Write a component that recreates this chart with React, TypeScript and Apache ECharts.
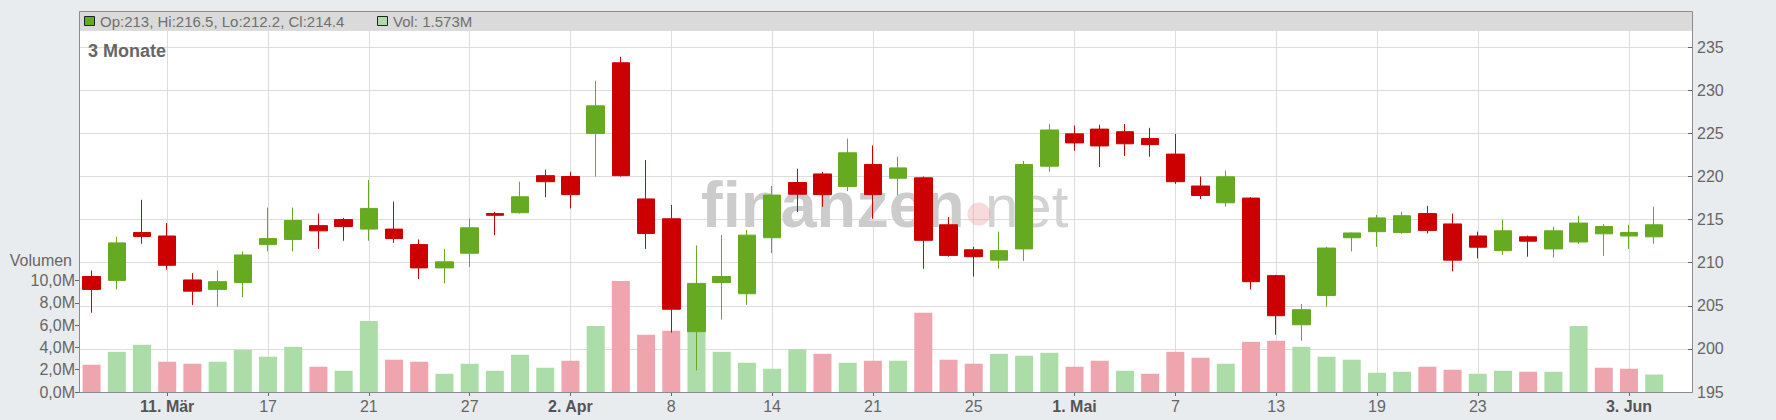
import React, { useEffect, useRef } from 'react';
import * as echarts from 'echarts';

// trading days (US calendar, 2025)
const dates = [
  '2025-03-06', '2025-03-07', '2025-03-10', '2025-03-11', '2025-03-12', '2025-03-13', '2025-03-14',
  '2025-03-17', '2025-03-18', '2025-03-19', '2025-03-20', '2025-03-21', '2025-03-24', '2025-03-25',
  '2025-03-26', '2025-03-27', '2025-03-28', '2025-03-31', '2025-04-01', '2025-04-02', '2025-04-03',
  '2025-04-04', '2025-04-07', '2025-04-08', '2025-04-09', '2025-04-10', '2025-04-11', '2025-04-14',
  '2025-04-15', '2025-04-16', '2025-04-17', '2025-04-21', '2025-04-22', '2025-04-23', '2025-04-24',
  '2025-04-25', '2025-04-28', '2025-04-29', '2025-04-30', '2025-05-01', '2025-05-02', '2025-05-05',
  '2025-05-06', '2025-05-07', '2025-05-08', '2025-05-09', '2025-05-12', '2025-05-13', '2025-05-14',
  '2025-05-15', '2025-05-16', '2025-05-19', '2025-05-20', '2025-05-21', '2025-05-22', '2025-05-23',
  '2025-05-27', '2025-05-28', '2025-05-29', '2025-05-30', '2025-06-02', '2025-06-03', '2025-06-04',
];
// empty slot after the last trading day
const paddingSlot = '2025-06-05';

const openP = [
  208.4, 207.95, 213.5, 213.1, 208.0, 206.9, 207.7,
  212.1, 212.7, 214.3, 215.0, 213.9, 213.9, 212.1,
  209.4, 211.1, 215.7, 215.8, 220.1, 220.0, 225.0,
  233.2, 217.4, 215.1, 202.0, 207.7, 206.4, 212.9,
  219.3, 220.3, 218.85, 221.4, 219.8, 219.85, 214.4,
  211.5, 210.3, 211.6, 221.2, 224.95, 225.5, 225.2,
  224.4, 222.6, 218.9, 216.95, 217.5, 208.5, 202.8,
  206.2, 212.9, 213.6, 213.5, 215.7, 214.5, 213.1,
  211.4, 213.0, 211.6, 212.4, 213.35, 213.1, 213,
];
const highP = [
  209.1, 213.0, 217.3, 214.6, 208.8, 209.1, 211.3,
  216.4, 216.4, 215.7, 215.2, 219.6, 217.1, 212.7,
  211.6, 215.1, 215.9, 219.4, 220.8, 220.55, 231.1,
  233.9, 221.9, 216.7, 212.0, 213.2, 213.8, 218.9,
  220.9, 220.55, 224.4, 223.6, 222.3, 220.0, 215.3,
  211.85, 213.6, 221.8, 226.1, 225.9, 226.0, 226.1,
  225.65, 224.95, 220.0, 220.7, 217.6, 208.6, 205.2,
  211.85, 213.5, 215.55, 215.9, 216.6, 215.7, 213.6,
  215.0, 213.15, 214.2, 215.45, 214.5, 214.4, 216.5,
];
const lowP = [
  204.2, 206.9, 212.2, 209.2, 205.1, 204.9, 206.0,
  211.3, 211.3, 211.6, 212.55, 212.55, 212.3, 208.1,
  207.6, 209.5, 213.2, 215.7, 217.6, 216.3, 220.0,
  220.0, 211.6, 201.9, 197.5, 203.4, 205.1, 211.1,
  215.9, 216.5, 218.3, 215.1, 217.8, 209.3, 210.7,
  208.4, 209.3, 210.2, 220.55, 223.0, 221.1, 222.4,
  222.3, 219.15, 217.4, 216.5, 206.9, 201.65, 200.95,
  204.9, 211.3, 211.85, 213.35, 213.4, 209.0, 210.5,
  210.9, 210.7, 210.6, 212.2, 210.8, 211.6, 212.2,
];
const closeP = [
  206.9, 212.3, 213.05, 209.7, 206.7, 207.8, 210.9,
  212.8, 214.9, 213.7, 214.2, 216.3, 212.8, 209.4,
  210.1, 214.05, 215.5, 217.65, 219.4, 217.9, 228.2,
  220.1, 213.4, 204.6, 207.6, 208.4, 213.2, 217.85,
  217.95, 217.9, 222.75, 217.9, 221.0, 212.6, 210.85,
  210.7, 211.4, 221.4, 225.4, 223.9, 223.55, 223.8,
  223.7, 219.4, 217.8, 219.97, 207.8, 203.85, 204.55,
  211.7, 213.45, 215.2, 215.45, 213.75, 210.3, 211.8,
  213.7, 212.5, 213.7, 214.6, 214.2, 213.5, 214.4,
];
// volume in millions
const volumeM = [
  2.45, 3.61, 4.24, 2.72, 2.54, 2.72, 3.79,
  3.17, 4.06, 2.27, 1.91, 6.39, 2.9, 2.72,
  1.64, 2.54, 1.91, 3.35, 2.18, 2.81, 5.94,
  9.97, 5.14, 5.5, 5.6, 3.61, 2.63, 2.09,
  3.85, 3.43, 2.63, 2.81, 2.81, 7.11, 2.9,
  2.54, 3.43, 3.26, 3.52, 2.27, 2.81, 1.91,
  1.64, 3.61, 3.08, 2.54, 4.51, 4.6, 4.06,
  3.17, 2.9, 1.73, 1.82, 2.27, 2.0, 1.64,
  1.91, 1.82, 1.82, 5.94, 2.18, 2.09, 1.573,
];

const tickDates = [
  '2025-03-11', '2025-03-17', '2025-03-21', '2025-03-27', '2025-04-02', '2025-04-08', '2025-04-14',
  '2025-04-21', '2025-04-25', '2025-05-01', '2025-05-07', '2025-05-13', '2025-05-19', '2025-05-23',
  '2025-06-03',
];
const tickLabels = [
  '11. Mär', '17', '21', '27', '2. Apr', '8', '14',
  '21', '25', '1. Mai', '7', '13', '19', '23',
  '3. Jun',
];
const priceTicks = { min: 195, max: 237, interval: 5 };
const volumeTicks = { min: 0, max: 10, interval: 2 };

const UP = '#66aa22';
const DOWN = '#cc0000';
const VOL_UP = '#acdca8';
const VOL_DOWN = '#eea5ad';
const FONT = '"Liberation Sans", Arial, Helvetica, sans-serif';

export default function App() {
  const ref = useRef<HTMLDivElement>(null);

  useEffect(() => {
    document.body.style.margin = '0';
    const chart = echarts.init(ref.current as HTMLDivElement, null, { renderer: 'svg' });

    const categories = [...dates, paddingSlot];
    const labelMap: Record<string, string> = {};
    tickDates.forEach((d, i) => { labelMap[d] = tickLabels[i]; });
    const isTick = (_i: number, v: string) => labelMap[v] !== undefined;

    const candles = dates.map((_, i) => [openP[i], closeP[i], lowP[i], highP[i]]);
    const vols = volumeM.map((v, i) => {
      const up = i === 0 ? closeP[0] >= openP[0] : closeP[i] >= closeP[i - 1];
      return { value: v, itemStyle: { color: up ? VOL_UP : VOL_DOWN } };
    });

    const last = dates.length - 1;
    const headerText = `Op:${openP[last]}, Hi:${highP[last]}, Lo:${lowP[last]}, Cl:${closeP[last]}`;
    const volText = `Vol: ${volumeM[last].toFixed(3)}M`;
    const lastUp = closeP[last] >= openP[last];
    const lastVolUp = closeP[last] >= closeP[last - 1];

    const option: any = {
      animation: false,
      backgroundColor: '#e9ecef',
      textStyle: { fontFamily: FONT },
      grid: [
        { left: 79, right: 84, top: 30, bottom: 28, show: true, backgroundColor: '#ffffff', borderWidth: 0 },
        { left: 79, right: 84, top: 280.7, bottom: 28 },
      ],
      xAxis: [
        {
          type: 'category',
          gridIndex: 0,
          data: categories,
          boundaryGap: true,
          axisLine: { show: true, lineStyle: { color: '#888888', width: 1 } },
          axisTick: { show: true, alignWithLabel: true, interval: isTick, length: 4, lineStyle: { color: '#666666' } },
          axisLabel: {
            interval: isTick,
            margin: 6,
            formatter: (v: string) => {
              const t = labelMap[v] || '';
              return t.indexOf('. ') >= 0 ? `{b|${t}}` : `{n|${t}}`;
            },
            rich: {
              b: { fontFamily: FONT, fontSize: 16, fontWeight: 'bold', color: '#555555' },
              n: { fontFamily: FONT, fontSize: 16, color: '#666666' },
            },
          },
          splitLine: { show: true, interval: isTick, alignWithLabel: true, lineStyle: { color: '#dddddd', width: 1 } },
        },
        {
          type: 'category',
          gridIndex: 1,
          data: categories,
          boundaryGap: true,
          show: false,
        },
      ],
      yAxis: [
        {
          type: 'value',
          gridIndex: 0,
          position: 'right',
          min: priceTicks.min,
          max: priceTicks.max,
          interval: priceTicks.interval,
          axisLine: { show: true, lineStyle: { color: '#888888', width: 1 } },
          axisTick: { show: true, inside: true, length: 4, lineStyle: { color: '#666666' } },
          axisLabel: { margin: 5, fontSize: 16, color: '#666666', fontFamily: FONT, showMaxLabel: false },
          splitLine: { show: true, lineStyle: { color: '#dddddd', width: 1 } },
        },
        {
          type: 'value',
          gridIndex: 1,
          position: 'left',
          min: volumeTicks.min,
          max: volumeTicks.max,
          interval: volumeTicks.interval,
          axisLine: { show: true, lineStyle: { color: '#888888', width: 1 } },
          axisTick: { show: true, length: 4, lineStyle: { color: '#666666' } },
          axisLabel: {
            margin: 4,
            fontSize: 16,
            color: '#666666',
            fontFamily: FONT,
            formatter: (v: number) => v.toFixed(1).replace('.', ',') + 'M',
          },
          splitLine: { show: false },
        },
      ],
      series: [
        {
          type: 'bar',
          xAxisIndex: 1,
          yAxisIndex: 1,
          data: vols,
          barWidth: 18,
          z: 2,
        },
        {
          type: 'candlestick',
          xAxisIndex: 0,
          yAxisIndex: 0,
          data: candles,
          barWidth: 18,
          z: 3,
          itemStyle: {
            color: UP,
            color0: DOWN,
            borderColor: UP,
            borderColor0: DOWN,
            borderWidth: 1,
          },
        },
      ],
      graphic: [
        // watermark
        {
          type: 'text', z: 1, silent: true,
          style: { text: 'finanzen', x: 701, y: 204, fill: '#cccccc', font: `bold 65px ${FONT}`, verticalAlign: 'middle' },
        },
        {
          type: 'text', z: 1, silent: true,
          style: { text: 'net', x: 985, y: 206, fill: '#d2d2d2', font: `normal 60px ${FONT}`, verticalAlign: 'middle' },
        },
        {
          type: 'circle', z: 1, silent: true,
          shape: { cx: 979, cy: 214, r: 11.5 },
          style: { fill: 'rgba(232,150,150,0.35)' },
        },
        // header bar
        {
          type: 'rect', z: 9, silent: true,
          shape: { x: 80, y: 12, width: 1612, height: 18 },
          style: { fill: '#d9dad9' },
        },
        {
          type: 'rect', z: 11, silent: true,
          shape: { x: 84.5, y: 16.5, width: 10, height: 9 },
          style: { fill: lastUp ? UP : DOWN, stroke: '#222222', lineWidth: 1 },
        },
        {
          type: 'text', z: 11, silent: true,
          style: { text: headerText, x: 100, y: 21.5, fill: '#707070', font: `15px ${FONT}`, verticalAlign: 'middle' },
        },
        {
          type: 'rect', z: 11, silent: true,
          shape: { x: 377.5, y: 16.5, width: 10, height: 9 },
          style: { fill: lastVolUp ? VOL_UP : VOL_DOWN, stroke: '#222222', lineWidth: 1 },
        },
        {
          type: 'text', z: 11, silent: true,
          style: { text: volText, x: 393, y: 21.5, fill: '#707070', font: `15px ${FONT}`, verticalAlign: 'middle' },
        },
        // outer border
        {
          type: 'rect', z: 10, silent: true,
          shape: { x: 79.5, y: 11.5, width: 1613, height: 381 },
          style: { fill: 'none', stroke: '#8c8c8c', lineWidth: 1 },
        },
        // period label
        {
          type: 'text', z: 11, silent: true,
          style: { text: '3 Monate', x: 88, y: 51, fill: '#666666', font: `bold 18px ${FONT}`, verticalAlign: 'middle' },
        },
        // volume axis title
        {
          type: 'text', z: 11, silent: true,
          style: { text: 'Volumen', x: 72, y: 260, fill: '#666666', font: `16px ${FONT}`, align: 'right', verticalAlign: 'middle' },
        },
      ],
    };

    chart.setOption(option);
    return () => chart.dispose();
  }, []);

  return (
    <div
      ref={ref}
      style={{ position: 'fixed', left: 0, top: 0, width: 1776, height: 420, background: '#e9ecef' }}
    />
  );
}
